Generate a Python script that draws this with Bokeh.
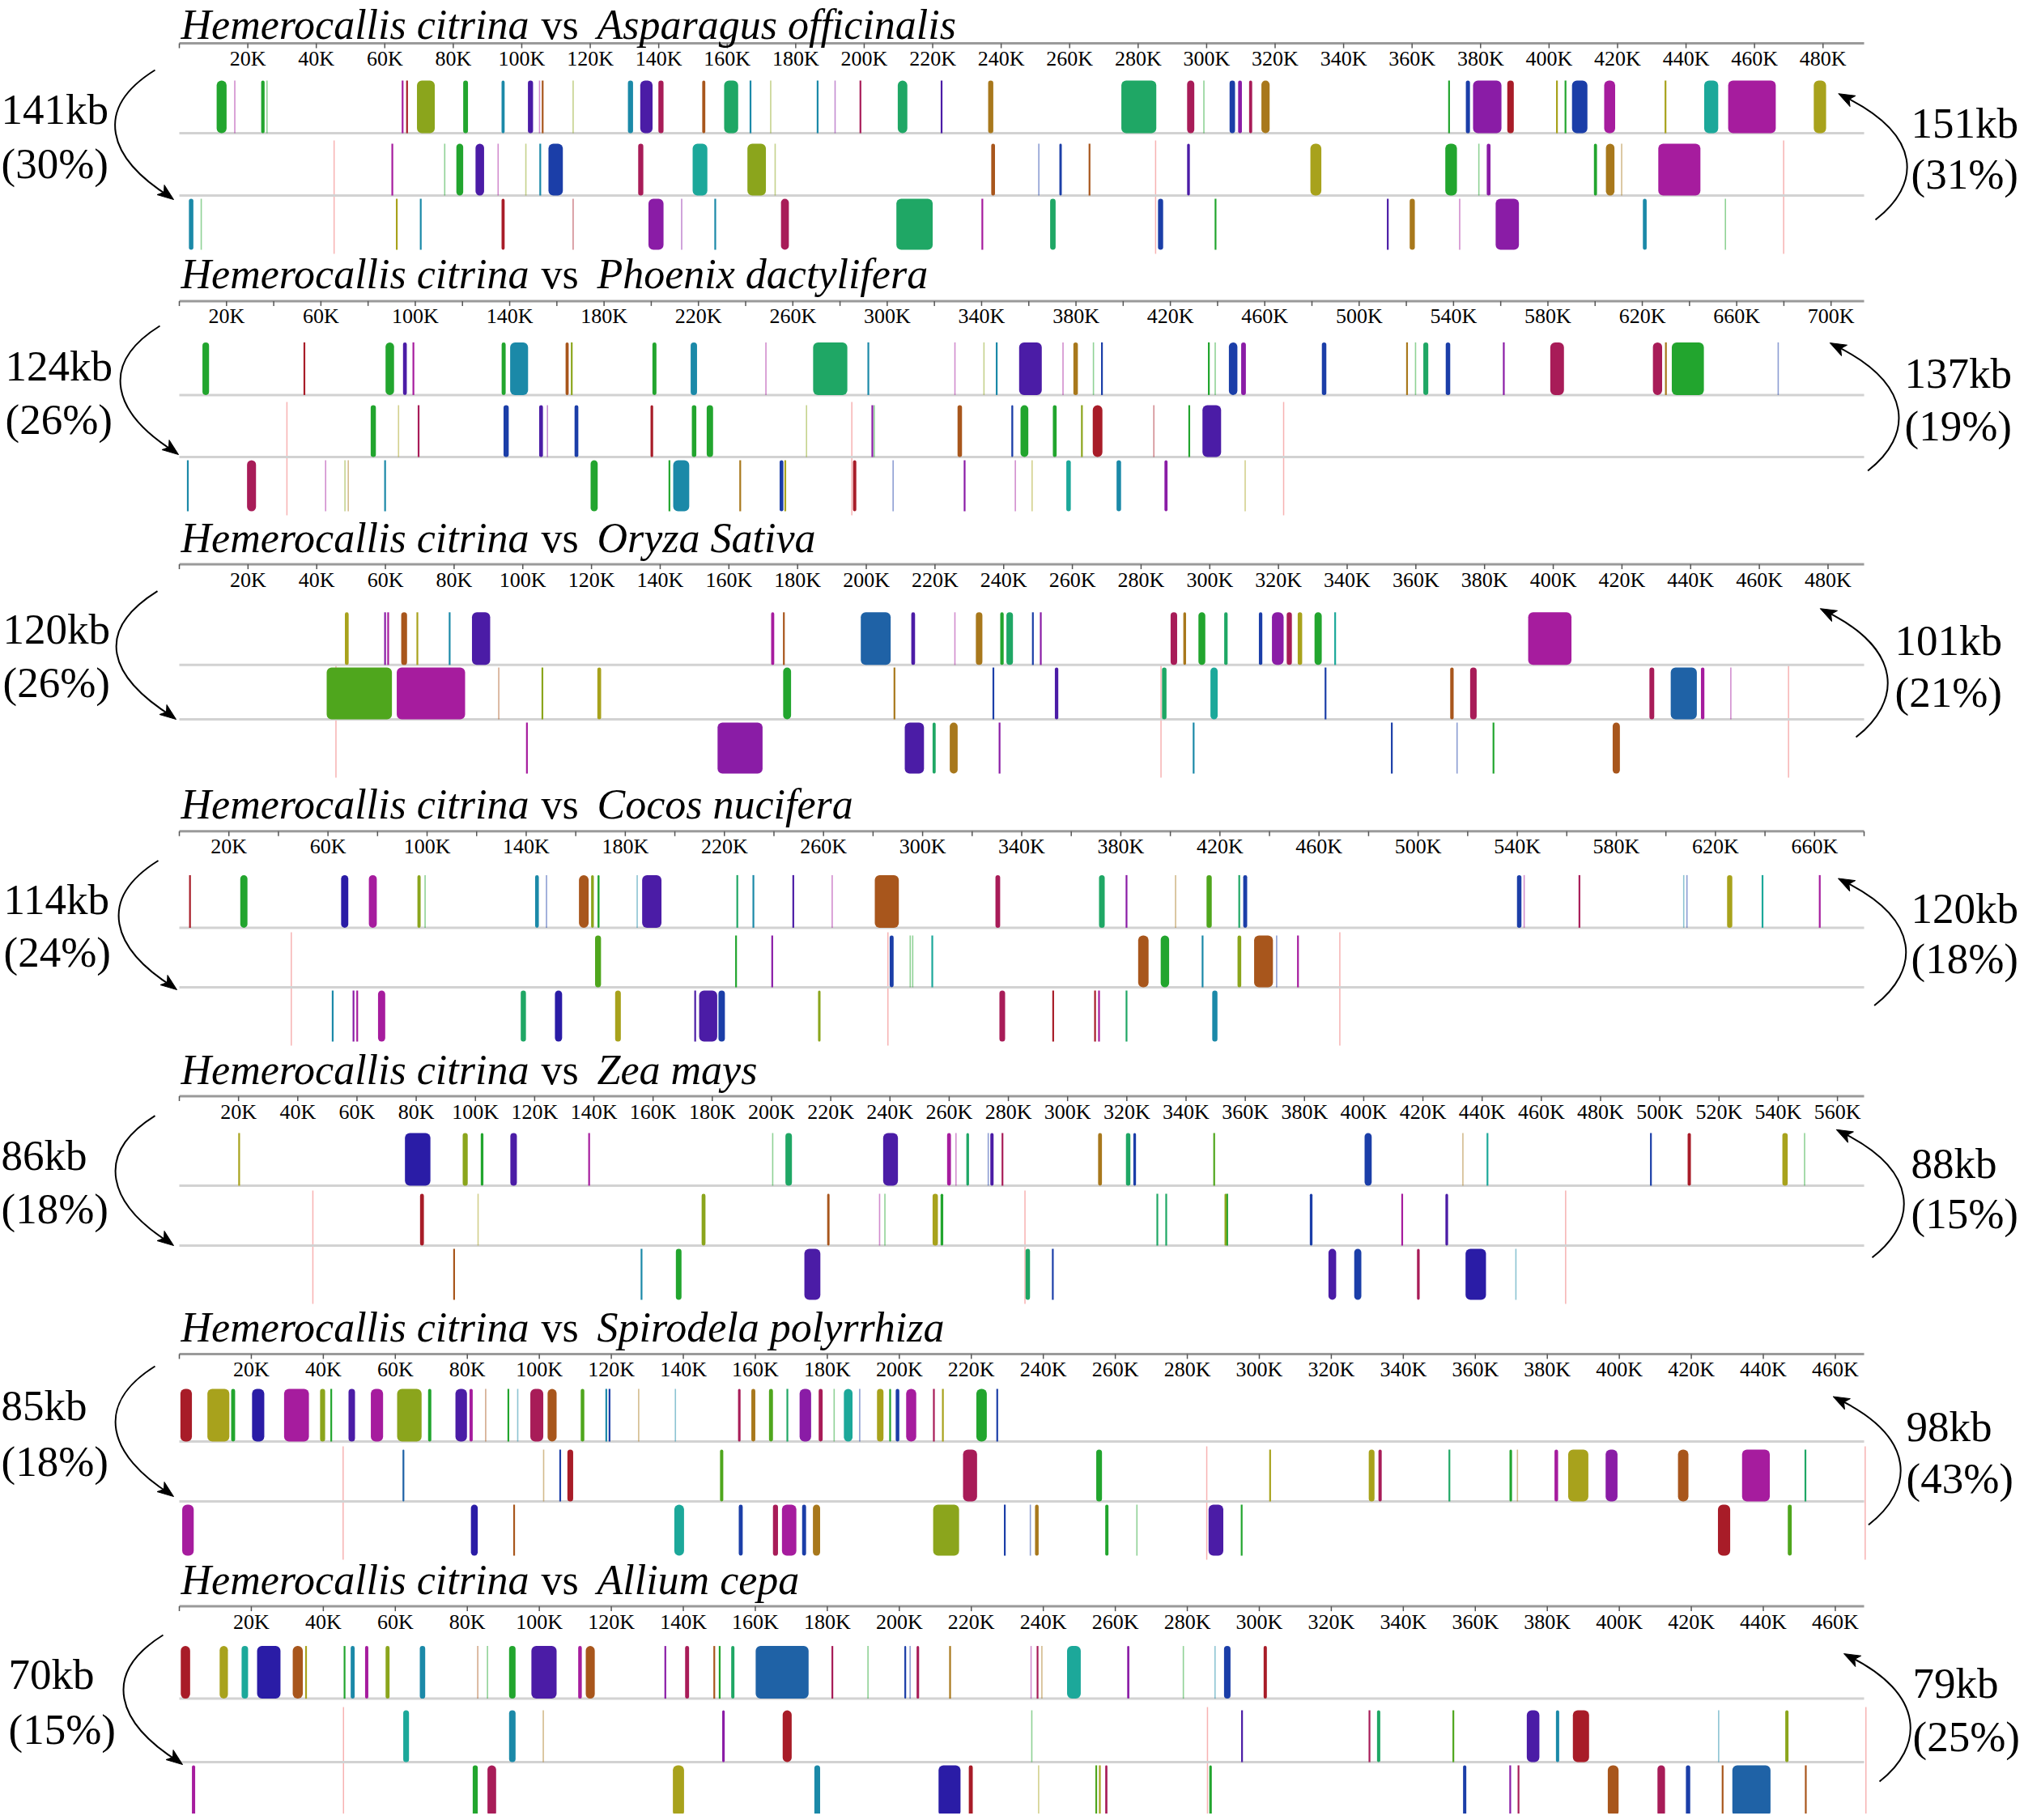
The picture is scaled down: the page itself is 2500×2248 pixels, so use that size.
import math
from bokeh.plotting import figure
from bokeh.models import Range1d, ColumnDataSource
from bokeh.core.properties import value
from bokeh.embed import file_html
from bokeh.resources import INLINE

# ---------------- data ----------------
REFERENCE = "Hemerocallis citrina"
SPECIES = ["Asparagus officinalis", "Phoenix dactylifera", "Oryza Sativa", "Cocos nucifera",
           "Zea mays", "Spirodela polyrrhiza", "Allium cepa"]
AXIS_LEN_KB = [492, 714, 490.5, 680, 569, 468, 468]
LABEL_STEP_KB = [20, 40, 20, 40, 20, 20, 20]
LEFT_KB = ["141kb", "124kb", "120kb", "114kb", "86kb", "85kb", "70kb"]
LEFT_PCT = ["(30%)", "(26%)", "(26%)", "(24%)", "(18%)", "(18%)", "(15%)"]
RIGHT_KB = ["151kb", "137kb", "101kb", "120kb", "88kb", "98kb", "79kb"]
RIGHT_PCT = ["(31%)", "(19%)", "(21%)", "(18%)", "(15%)", "(43%)", "(25%)"]

# blocks: (start kb, end kb, colour code); start == end -> thin line
P1_T1 = [(10.9, 13.8, "G"), (16.2, 16.2, "m"), (23.9, 24.9, "G"), (25.6, 25.6, "g"), (65.2, 65.2, "M"),
         (66.5, 66.5, "R"), (69.4, 74.6, "O"), (82.9, 84.3, "G"), (94.1, 95.0, "T"), (101.8, 103.3, "I"),
         (105.2, 105.2, "m"), (106.1, 106.1, "N"), (115.0, 115.0, "o"), (131.0, 132.5, "T"), (134.6, 138.2, "I"),
         (139.9, 141.4, "C"), (152.7, 153.6, "N"), (159.1, 163.2, "S"), (166.8, 166.8, "T"), (172.7, 172.7, "o"),
         (186.4, 186.4, "T"), (191.5, 191.5, "v"), (198.9, 198.9, "C"), (209.8, 212.6, "S"), (222.6, 222.6, "I"),
         (236.2, 237.7, "K"), (275.1, 285.3, "S"), (294.3, 296.4, "C"), (299.2, 299.2, "g"), (306.7, 308.3, "B"),
         (309.2, 310.3, "V"), (312.4, 313.3, "C"), (316.0, 318.4, "K"), (370.8, 370.8, "G"), (375.7, 376.9, "B"),
         (377.8, 386.1, "V"), (387.8, 389.7, "R"), (402.3, 402.3, "L"), (404.8, 404.8, "G"), (406.7, 411.2, "B"),
         (416.1, 419.3, "M"), (434.0, 434.0, "L"), (445.3, 449.4, "Q"), (452.3, 466.2, "M"), (477.3, 480.9, "L")]
P1_T2 = [(62.2, 62.2, "M"), (77.5, 77.5, "g"), (80.9, 82.9, "G"), (86.5, 89.0, "I"), (93.1, 93.1, "m"),
         (101.2, 101.2, "o"), (105.4, 105.4, "T"), (107.8, 112.0, "B"), (134.0, 135.5, "C"), (149.9, 154.2, "Q"),
         (165.9, 171.3, "O"), (174.0, 174.0, "o"), (237.1, 238.2, "N"), (251.0, 251.0, "b"), (257.0, 257.7, "B"),
         (265.8, 265.8, "N"), (294.3, 295.1, "I"), (330.3, 333.5, "L"), (369.7, 373.1, "G"), (379.5, 379.5, "g"),
         (381.8, 382.9, "V"), (413.1, 414.0, "G"), (416.6, 419.1, "K"), (421.2, 421.2, "k"), (431.9, 444.2, "M")]
P1_T3 = [(2.8, 4.1, "T"), (6.4, 6.4, "g"), (63.5, 63.5, "L"), (70.5, 70.5, "T"), (94.1, 95.0, "R"),
         (115.0, 115.0, "r"), (137.0, 141.4, "V"), (146.7, 146.7, "v"), (156.5, 156.5, "T"), (175.7, 178.0, "C"),
         (209.4, 220.0, "S"), (234.5, 234.5, "M"), (254.3, 255.9, "S"), (285.8, 287.3, "B"), (302.6, 302.6, "G"),
         (352.9, 352.9, "I"), (359.3, 360.8, "K"), (373.9, 373.9, "m"), (384.4, 391.2, "V"), (427.4, 428.5, "T"),
         (451.5, 451.5, "g")]
P1_CROSS = [45.2, 285.1, 468.5]

P2_T1 = [(9.8, 12.6, "G"), (53.0, 53.0, "R"), (87.4, 91.0, "G"), (94.8, 96.4, "I"), (99.2, 99.2, "M"),
         (136.6, 138.3, "G"), (140.2, 147.8, "T"), (163.7, 165.0, "N"), (166.3, 166.3, "O"), (200.5, 202.2, "G"),
         (216.7, 219.4, "T"), (248.6, 248.6, "m"), (268.6, 283.1, "S"), (292.0, 292.0, "T"), (328.7, 328.7, "m"),
         (341.0, 341.0, "o"), (346.4, 346.4, "T"), (355.9, 365.5, "I"), (374.5, 374.5, "m"), (378.9, 380.8, "K"),
         (387.4, 387.4, "g"), (391.0, 391.0, "B"), (436.3, 436.3, "G"), (439.0, 439.0, "g"), (444.8, 448.4, "B"),
         (450.0, 452.0, "V"), (484.2, 486.1, "B"), (520.3, 520.3, "K"), (523.9, 523.9, "g"), (527.2, 529.3, "S"),
         (536.7, 538.6, "B"), (561.3, 561.3, "V"), (581.0, 586.8, "C"), (624.5, 628.4, "C"), (630.0, 630.0, "K"),
         (632.5, 646.1, "G"), (677.6, 677.6, "b")]
P2_T2 = [(81.1, 83.3, "G"), (92.9, 92.9, "l"), (101.4, 101.4, "C"), (137.4, 139.6, "B"), (152.5, 154.1, "I"),
         (156.0, 156.0, "v"), (167.5, 169.1, "B"), (199.7, 200.8, "R"), (217.2, 219.1, "G"), (223.5, 226.2, "G"),
         (265.8, 265.8, "o"), (293.7, 293.7, "V"), (294.5, 294.5, "g"), (329.8, 331.7, "N"), (352.6, 353.4, "B"),
         (356.5, 359.8, "G"), (370.2, 371.8, "G"), (382.5, 382.5, "O"), (387.1, 391.2, "R"), (413.0, 413.0, "r"),
         (428.0, 428.0, "G"), (433.6, 441.5, "I")]
P2_T3 = [(3.6, 3.6, "T"), (28.7, 32.5, "C"), (62.0, 62.0, "m"), (70.2, 70.2, "o"), (71.6, 71.6, "k"),
         (87.2, 87.2, "T"), (174.3, 177.3, "G"), (207.7, 207.7, "G"), (209.3, 216.1, "T"), (237.7, 237.7, "K"),
         (254.4, 256.0, "B"), (256.8, 256.8, "L"), (285.5, 286.9, "R"), (302.5, 302.5, "b"), (332.8, 332.8, "V"),
         (354.3, 354.3, "m"), (361.4, 361.4, "l"), (375.9, 377.8, "Q"), (397.2, 399.1, "T"), (417.5, 418.8, "V"),
         (451.7, 451.7, "l")]
P2_CROSS = [45.6, 285.0, 468.0]

P3_T1 = [(48.2, 49.3, "L"), (59.9, 59.9, "V"), (60.8, 60.8, "M"), (64.6, 66.3, "N"), (69.3, 69.3, "L"),
         (78.7, 78.7, "T"), (85.2, 90.5, "I"), (172.3, 173.2, "M"), (176.0, 176.0, "N"), (198.4, 207.1, "U"),
         (213.1, 214.2, "I"), (225.8, 225.8, "m"), (231.9, 233.8, "K"), (239.0, 240.0, "G"), (240.8, 242.7, "S"),
         (248.5, 248.5, "B"), (250.8, 250.8, "V"), (288.6, 290.5, "C"), (292.3, 293.1, "K"), (296.7, 298.7, "G"),
         (304.2, 305.2, "S"), (314.3, 315.3, "B"), (318.1, 321.5, "V"), (322.4, 323.9, "C"), (325.6, 326.9, "L"),
         (330.5, 332.6, "G"), (336.5, 336.5, "Q"), (392.7, 405.3, "M")]
P3_T2 = [(42.9, 61.9, "Y"), (63.3, 83.2, "M"), (93.0, 93.0, "n"), (105.7, 105.7, "O"), (121.7, 122.8, "L"),
         (175.8, 178.1, "G"), (208.2, 208.2, "K"), (237.0, 237.0, "B"), (254.9, 255.9, "I"), (286.1, 287.4, "S"),
         (300.2, 302.3, "Q"), (333.7, 333.7, "B"), (370.0, 371.0, "N"), (375.8, 377.7, "C"), (428.0, 429.4, "C"),
         (434.2, 441.8, "U"), (443.0, 444.0, "M"), (451.7, 451.7, "m")]
P3_T3 = [(101.2, 101.2, "M"), (156.7, 169.8, "V"), (211.2, 216.8, "I"), (219.3, 220.2, "S"), (224.3, 226.6, "K"),
         (238.8, 238.8, "V"), (295.3, 295.3, "T"), (353.0, 353.0, "B"), (372.0, 372.0, "b"), (382.6, 382.6, "G"),
         (417.3, 419.4, "N")]
P3_CROSS = [45.6, 285.8, 468.5]

P4_T1 = [(4.3, 4.3, "R"), (24.6, 27.5, "G"), (65.3, 68.2, "D"), (76.5, 79.7, "M"), (96.1, 97.4, "O"),
         (99.2, 99.2, "g"), (143.6, 145.1, "T"), (148.2, 148.2, "b"), (161.3, 165.2, "N"), (166.2, 167.3, "O"),
         (168.8, 169.6, "G"), (184.8, 184.8, "t"), (186.8, 194.6, "I"), (225.2, 225.2, "S"), (231.7, 231.7, "T"),
         (247.8, 247.8, "I"), (263.5, 263.5, "m"), (280.7, 290.4, "N"), (329.4, 331.3, "C"), (371.2, 373.5, "S"),
         (382.3, 382.3, "V"), (402.1, 402.1, "k"), (414.6, 416.7, "Y"), (427.8, 427.8, "S"), (429.4, 431.0, "B"),
         (539.9, 541.7, "B"), (542.8, 542.8, "m"), (565.1, 565.1, "C"), (607.2, 607.2, "t"), (608.5, 608.5, "b"),
         (624.7, 626.8, "L"), (639.0, 639.0, "Q"), (662.1, 662.1, "M")]
P4_T2 = [(167.8, 170.2, "Y"), (224.7, 224.7, "G"), (239.3, 239.3, "V"), (286.7, 288.3, "B"), (295.0, 295.0, "g"),
         (296.0, 296.0, "g"), (303.9, 303.9, "Q"), (387.0, 391.2, "N"), (396.1, 399.5, "G"), (413.0, 413.0, "T"),
         (427.1, 428.6, "O"), (433.8, 441.4, "N"), (442.9, 442.9, "b"), (451.5, 451.5, "M")]
P4_T3 = [(61.9, 61.9, "T"), (70.3, 70.3, "V"), (71.8, 71.8, "M"), (80.2, 83.1, "M"), (137.8, 139.9, "S"),
         (151.6, 154.5, "D"), (175.9, 178.2, "L"), (208.2, 208.2, "I"), (209.8, 217.1, "I"), (217.6, 220.2, "B"),
         (257.8, 258.8, "O"), (331.0, 333.3, "C"), (352.7, 352.7, "R"), (369.6, 369.6, "R"), (371.2, 371.2, "M"),
         (382.3, 382.3, "S"), (416.9, 419.0, "T")]
P4_CROSS = [45.2, 286.0, 468.4]

P5_T1 = [(20.2, 20.2, "L"), (76.2, 84.8, "D"), (95.7, 97.4, "O"), (101.8, 102.7, "G"), (111.8, 114.0, "I"),
         (138.4, 138.4, "M"), (200.4, 200.4, "g"), (204.7, 206.9, "S"), (237.7, 242.7, "I"), (259.3, 260.6, "M"),
         (262.3, 262.3, "m"), (265.8, 266.7, "S"), (273.2, 273.2, "b"), (273.9, 275.0, "I"), (278.0, 278.0, "C"),
         (310.3, 311.6, "K"), (319.7, 321.2, "S"), (322.2, 323.1, "B"), (349.5, 349.5, "Y"), (400.3, 402.7, "B"),
         (433.5, 433.5, "k"), (441.8, 441.8, "Q"), (497.0, 497.0, "B"), (509.4, 510.5, "R"), (541.4, 543.2, "L"),
         (548.9, 548.9, "g")]
P5_T2 = [(81.3, 82.6, "R"), (100.9, 100.9, "l"), (176.4, 177.7, "O"), (218.8, 219.6, "N"), (236.5, 236.5, "m"),
         (238.3, 238.3, "g"), (254.4, 256.2, "L"), (257.1, 258.0, "G"), (330.3, 330.3, "S"), (333.3, 333.3, "S"),
         (353.0, 353.7, "O"), (353.9, 353.9, "G"), (381.8, 382.7, "B"), (413.0, 413.0, "M"), (427.6, 428.5, "I")]
P5_T3 = [(92.8, 92.8, "N"), (156.1, 156.1, "T"), (167.7, 169.6, "G"), (211.1, 216.5, "I"), (285.8, 287.3, "S"),
         (295.0, 295.0, "B"), (388.1, 390.7, "I"), (396.8, 399.2, "B"), (418.0, 418.9, "C"), (434.4, 441.3, "D"),
         (451.4, 451.4, "t")]
P5_CROSS = [45.1, 285.6, 468.2]

P6_T1 = [(0.3, 3.5, "R"), (7.8, 13.9, "L"), (14.4, 15.5, "G"), (20.2, 23.6, "D"), (29.1, 36.0, "M"),
         (39.1, 40.5, "O"), (42.2, 42.2, "G"), (47.0, 48.8, "I"), (53.2, 56.6, "M"), (60.5, 67.3, "O"),
         (69.1, 70.0, "G"), (76.7, 79.9, "I"), (80.6, 81.5, "M"), (85.1, 85.1, "n"), (91.4, 91.4, "G"),
         (94.0, 94.0, "t"), (97.5, 101.1, "C"), (102.3, 104.8, "N"), (111.5, 112.5, "Y"), (118.6, 118.6, "T"),
         (119.5, 119.5, "B"), (127.6, 127.6, "k"), (137.8, 137.8, "t"), (155.2, 155.9, "C"), (158.9, 160.0, "K"),
         (163.8, 164.9, "Y"), (168.9, 168.9, "S"), (172.3, 175.5, "V"), (177.6, 178.7, "C"), (181.9, 181.9, "g"),
         (184.6, 187.0, "Q"), (189.0, 189.0, "b"), (193.8, 195.6, "L"), (197.2, 197.7, "G"), (199.0, 200.0, "B"),
         (201.9, 204.7, "M"), (209.6, 209.6, "C"), (212.1, 212.1, "L"), (221.4, 224.3, "G"), (227.2, 227.2, "B")]
P6_T2 = [(62.0, 62.5, "U"), (101.2, 101.2, "k"), (105.8, 105.8, "B"), (107.8, 109.4, "R"), (150.2, 151.1, "Y"),
         (217.7, 221.6, "C"), (254.7, 256.3, "G"), (303.0, 303.0, "L"), (330.4, 332.0, "L"), (333.1, 334.0, "C"),
         (352.8, 352.8, "S"), (369.5, 370.2, "G"), (371.7, 371.7, "k"), (382.0, 383.0, "M"), (385.8, 391.4, "L"),
         (396.2, 399.5, "V"), (416.3, 419.2, "N"), (434.1, 441.8, "M"), (451.7, 451.7, "S")]
P6_T3 = [(0.8, 4.0, "M"), (81.0, 82.9, "D"), (93.0, 93.0, "N"), (137.5, 140.2, "Q"), (155.4, 156.5, "B"),
         (164.9, 166.3, "C"), (167.4, 171.4, "M"), (173.0, 174.1, "B"), (176.0, 178.0, "K"), (209.4, 216.6, "O"),
         (229.3, 229.3, "B"), (236.4, 236.4, "b"), (237.7, 238.7, "K"), (257.2, 258.1, "G"), (266.0, 266.0, "g"),
         (285.9, 290.0, "I"), (295.1, 295.1, "G"), (427.4, 430.8, "R"), (446.8, 447.9, "Y")]
P6_CROSS = [45.5, 285.4, 468.3]

P7_T1 = [(0.4, 3.0, "R"), (11.2, 13.5, "L"), (17.3, 19.1, "Q"), (21.6, 28.1, "D"), (31.5, 34.3, "N"),
         (35.2, 35.2, "L"), (45.9, 45.9, "G"), (47.6, 48.7, "T"), (51.6, 52.5, "M"), (57.3, 58.4, "O"),
         (66.8, 68.3, "T"), (82.9, 82.9, "n"), (85.6, 85.6, "g"), (91.6, 93.4, "G"), (97.8, 104.8, "I"),
         (110.8, 111.8, "M"), (112.9, 115.4, "N"), (135.0, 135.0, "V"), (140.5, 141.6, "C"), (148.6, 148.6, "N"),
         (150.1, 150.1, "G"), (153.3, 154.2, "S"), (160.1, 174.8, "U"), (181.4, 181.4, "C"), (191.3, 191.3, "g"),
         (201.4, 201.9, "B"), (203.0, 203.0, "b"), (204.8, 205.5, "C"), (214.1, 214.1, "K"), (236.6, 236.6, "m"),
         (238.4, 238.4, "C"), (239.6, 239.6, "k"), (246.6, 250.4, "Q"), (263.3, 263.9, "V"), (278.9, 278.9, "g"),
         (287.7, 287.7, "t"), (290.2, 292.0, "B"), (301.2, 302.1, "R")]
P7_T2 = [(62.2, 63.8, "Q"), (91.6, 93.4, "T"), (101.1, 101.1, "k"), (150.8, 151.5, "V"), (167.6, 170.1, "R"),
         (236.8, 236.8, "g"), (295.2, 295.2, "I"), (330.6, 330.6, "C"), (332.7, 333.6, "S"), (353.9, 353.9, "Y"),
         (374.3, 377.8, "I"), (382.4, 383.3, "T"), (387.1, 391.6, "R"), (427.6, 427.6, "t"), (446.1, 447.0, "O")]
P7_T3 = [(3.5, 4.4, "M"), (81.5, 82.9, "G"), (85.6, 88.0, "C"), (137.1, 140.2, "L"), (176.4, 178.0, "T"),
         (210.9, 217.0, "D"), (219.3, 220.4, "R"), (238.7, 238.7, "l"), (254.7, 254.7, "Y"), (255.7, 255.7, "L"),
         (257.2, 257.8, "C"), (286.1, 286.8, "G"), (356.6, 357.5, "B"), (369.7, 369.7, "V"), (372.0, 372.0, "C"),
         (396.8, 399.8, "N"), (410.6, 412.7, "C"), (418.5, 419.7, "B"), (428.7, 428.7, "N"), (431.4, 442.0, "U"),
         (451.8, 451.8, "N")]
P7_CROSS = [45.6, 285.6, 468.5]

TRACKS = [(P1_T1, P1_T2, P1_T3), (P2_T1, P2_T2, P2_T3), (P3_T1, P3_T2, P3_T3), (P4_T1, P4_T2, P4_T3),
          (P5_T1, P5_T2, P5_T3), (P6_T1, P6_T2, P6_T3), (P7_T1, P7_T2, P7_T3)]
CROSSES = [P1_CROSS, P2_CROSS, P3_CROSS, P4_CROSS, P5_CROSS, P6_CROSS, P7_CROSS]

COLORS = {"G": "#22a52e", "Y": "#4fa61d", "S": "#1fa765", "Q": "#1ca89a", "T": "#1b89a8",
          "U": "#1f62a6", "B": "#1b3ea8", "D": "#2a1ca6", "I": "#4b1ca6", "V": "#8a1ca6",
          "M": "#a61c9e", "C": "#a81c58", "R": "#a81c28", "N": "#a8561c", "K": "#a8781c",
          "O": "#8ba51c", "L": "#a8a21c"}
CROSS_COLOR = "#f7b2b2"

# ---------------- layout (page pixels) ----------------
W, H = 2496, 2240
PAGE0 = 0
AX0, AX1 = 221, 2302
AXIS_Y = [53, 371.4, 696.5, 1026.3, 1353.6, 1672, 1983.6]
DIV1 = [164, 487.4, 820.8, 1145.4, 1464, 1780, 2097.6]
DIV2 = [241, 564, 888, 1219, 1538, 1854, 2176]
TITLE_X = (223, 668, 737)
TITLE_MIN_Y = 30
LEFT_TXT = [(1, 134, 201), (6, 451, 517), (3, 776, 842), (4, 1110, 1175), (1, 1426, 1492), (1, 1735, 1804), (10, 2067, 2135)]
RIGHT_TXT = [(2360, 151, 214), (2352, 460, 525), (2340, 790, 854), (2360, 1121, 1183), (2360, 1436, 1498), (2354, 1761, 1825), (2362, 2078, 2144)]
LEFT_ARROW = [(191, 86, 142.5, 210, 243), (197, 402, 149, 216, 558), (194, 729.6, 144, 213, 885),
              (195, 1062.5, 147, 214, 1219), (191, 1377.7, 143, 210, 1535), (191, 1687, 143, 210, 1845),
              (201, 2019, 153, 221, 2176)]
RIGHT_ARROW = [(2316, 271, 2354.3, 2273.3, 116.7), (2306.6, 581, 2344, 2262.8, 424.6),
               (2292, 910, 2330.5, 2250.8, 752.7), (2314.6, 1241.5, 2353, 2273, 1086),
               (2312, 1552.8, 2350.5, 2270.7, 1396.3), (2307.4, 1883, 2346.5, 2266.7, 1726),
               (2321, 2200, 2358.5, 2280, 2043.6)]

SERIF = value("Liberation Serif")

p = figure(width=W, height=H, x_range=Range1d(PAGE0, PAGE0 + W), y_range=Range1d(PAGE0 + H, PAGE0),
           output_backend="svg", toolbar_location=None, x_axis_location=None, y_axis_location=None,
           min_border=0, outline_line_color=None, background_fill_color="white", border_fill_color="white")
p.xgrid.visible = False
p.ygrid.visible = False

extra = {}
for i, L in enumerate(AXIS_LEN_KB):
    s = (AX1 - AX0) / L
    extra[f"p{i}"] = Range1d((PAGE0 - AX0) / s, (PAGE0 + W - AX0) / s)
p.extra_x_ranges = extra


def track_box(i, k):
    if k == 0:
        return DIV1[i] - 65, DIV1[i]
    if k == 1:
        return DIV2[i] - 64, DIV2[i]
    return DIV2[i] + 4, DIV2[i] + 67


tri_x, tri_y = [], []


def add_head(tx, ty, dx, dy):
    n = math.hypot(dx, dy)
    dx, dy = dx / n, dy / n
    px, py = -dy, dx
    ln, hw = 20, 7.5
    bx, by = tx - ln * dx, ty - ln * dy
    tri_x.append([tx, bx + hw * px, tx - 0.75 * ln * dx, bx - hw * px])
    tri_y.append([ty, by + hw * py, ty - 0.75 * ln * dy, by - hw * py])


bz = dict(x0=[], y0=[], x1=[], y1=[], cx0=[], cy0=[], cx1=[], cy1=[])


def add_curve(x0, y0, c0, c1, x1, y1):
    bz["x0"].append(x0); bz["y0"].append(y0); bz["x1"].append(x1); bz["y1"].append(y1)
    bz["cx0"].append(c0[0]); bz["cy0"].append(c0[1]); bz["cx1"].append(c1[0]); bz["cy1"].append(c1[1])


for i in range(7):
    rn = f"p{i}"
    L = AXIS_LEN_KB[i]
    ay = AXIS_Y[i]
    cr = CROSSES[i]
    p.segment(x0=cr, x1=cr, y0=[DIV2[i] - 68] * len(cr), y1=[DIV2[i] + 72] * len(cr),
              line_color=CROSS_COLOR, line_width=1.5, x_range_name=rn)
    p.segment(x0=[0, 0, 0], x1=[L, L, L], y0=[ay, DIV1[i], DIV2[i]], y1=[ay, DIV1[i], DIV2[i]],
              line_color=["#9a9a9a", "#d2d2d2", "#d2d2d2"], line_width=3, x_range_name=rn)
    ticks = list(range(0, int(L) // 20 * 20 + 1, 20))
    p.segment(x0=ticks, x1=ticks, y0=[ay] * len(ticks), y1=[ay + 6] * len(ticks),
              line_color="#555555", line_width=1.5, x_range_name=rn)
    labs = list(range(20, int(L) // 20 * 20 + 1, LABEL_STEP_KB[i]))
    p.text(x=labs, y=[ay + 19] * len(labs), text=[f"{v}K" for v in labs], text_font=SERIF,
           text_font_size="26px", text_align="center", text_baseline="middle", text_color="black",
           x_range_name=rn)
    bl = dict(left=[], right=[], top=[], bottom=[], color=[])
    th = dict(x=[], y0=[], y1=[], color=[], alpha=[], width=[])
    for k, trk in enumerate(TRACKS[i]):
        top, bot = track_box(i, k)
        for a, b, c in trk:
            col = COLORS[c.upper()]
            if b > a:
                bl["left"].append(a); bl["right"].append(b)
                bl["top"].append(top); bl["bottom"].append(bot); bl["color"].append(col)
            else:
                th["x"].append(a); th["y0"].append(top); th["y1"].append(bot); th["color"].append(col)
                th["alpha"].append(1.0 if c.isupper() else 0.5)
                th["width"].append(2.2 if c.isupper() else 1.6)
    p.segment(x0="x", x1="x", y0="y0", y1="y1", line_color="color", line_alpha="alpha",
              line_width="width", source=ColumnDataSource(th), x_range_name=rn)
    p.quad(left="left", right="right", top="top", bottom="bottom", fill_color="color", line_color=None,
           border_radius=6, source=ColumnDataSource(bl), x_range_name=rn)
    # title (italic names, upright "vs")
    ty_mid = max(ay - 33, TITLE_MIN_Y)
    p.text(x=[TITLE_X[0]], y=[ty_mid], text=[REFERENCE], text_font=SERIF, text_font_size="52px",
           text_font_style="italic", text_baseline="middle", text_color="black")
    p.text(x=[TITLE_X[1]], y=[ty_mid], text=["vs"], text_font=SERIF, text_font_size="52px",
           text_font_style="normal", text_baseline="middle", text_color="black")
    p.text(x=[TITLE_X[2]], y=[ty_mid], text=[SPECIES[i]], text_font=SERIF, text_font_size="52px",
           text_font_style="italic", text_baseline="middle", text_color="black")
    # side labels
    lx, ly1, ly2 = LEFT_TXT[i]
    rx, ry1, ry2 = RIGHT_TXT[i]
    p.text(x=[lx, lx, rx, rx], y=[ly1, ly2, ry1, ry2], text=[LEFT_KB[i], LEFT_PCT[i], RIGHT_KB[i], RIGHT_PCT[i]],
           text_font=SERIF, text_font_size="53px", text_align="left", text_baseline="middle", text_color="black")
    # left arrow: "(" shaped, from top down to track 3
    sx, sy, lxm, tx, ty = LEFT_ARROW[i]
    a = (0.5 * (sx + tx) - lxm) / 0.6375
    add_curve(sx, sy, (sx - 0.85 * a, sy + 0.53 * a), (tx - 0.85 * a, ty - 0.53 * a), tx, ty)
    add_head(tx + 4, ty + 3, 0.8, 0.6)
    # right arrow: ")" shaped, from bottom up to track 1
    bx, byy, rxm, tx, ty = RIGHT_ARROW[i]
    a = (rxm - 0.5 * (bx + tx)) / (0.375 * 2.266)
    b = 1.64 * a
    add_curve(bx, byy, (bx + 0.79 * a, byy - 0.61 * a), (tx + 0.9 * b, ty + 0.43 * b), tx, ty)
    add_head(tx - 3, ty - 1.5, -0.86, -0.45)

p.bezier(x0="x0", y0="y0", x1="x1", y1="y1", cx0="cx0", cy0="cy0", cx1="cx1", cy1="cy1",
         source=ColumnDataSource(bz), line_color="black", line_width=2)
p.patches(xs=tri_x, ys=tri_y, fill_color="black", line_color="black", line_width=1)

open("out.html", "w").write(file_html(p, INLINE))
